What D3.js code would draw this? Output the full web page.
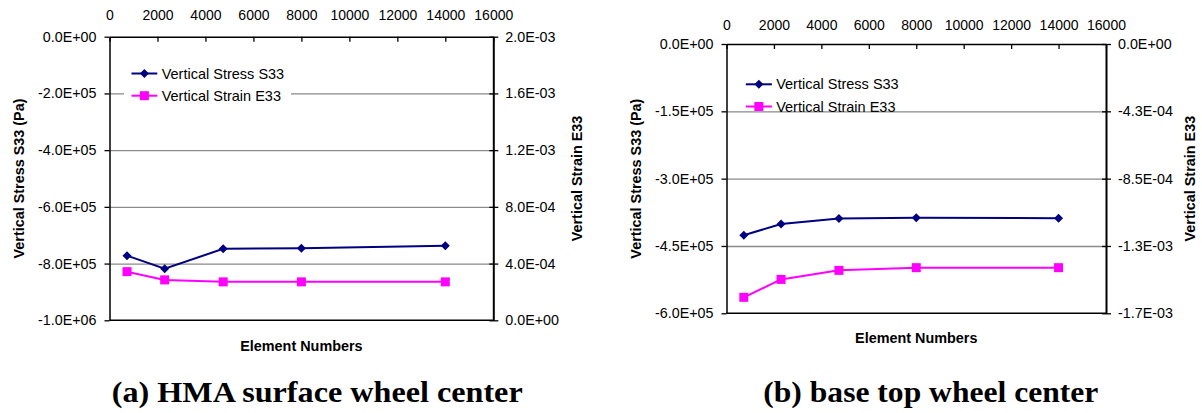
<!DOCTYPE html>
<html>
<head>
<meta charset="utf-8">
<script src="https://cdn.jsdelivr.net/npm/d3@7"></script>
<style>
  html, body { margin: 0; padding: 0; background: #fff; }
  svg { display: block; }
  text { font-family: "Liberation Sans", Arial, Helvetica, sans-serif; fill: #000; }
  .caption { font-family: "Liberation Serif", "Times New Roman", serif; font-weight: bold; }
</style>
</head>
<body>
<svg id="fig" width="1202" height="413"></svg>
<script>
// Mesh sizes (number of elements) used in the convergence study
const elementNumbers = [730, 2300, 4740, 8000, 14000];
const elementTicks = [0, 2000, 4000, 6000, 8000, 10000, 12000, 14000, 16000];

// (a) HMA surface, wheel center
const stressHMA = [-7.72e5, -8.18e5, -7.48e5, -7.46e5, -7.37e5];
const strainHMA = [3.43e-4, 2.85e-4, 2.71e-4, 2.71e-4, 2.71e-4];
const stressTicksHMA = [0, -2e5, -4e5, -6e5, -8e5, -1e6];
const stressLabelsHMA = ["0.0E+00", "-2.0E+05", "-4.0E+05", "-6.0E+05", "-8.0E+05", "-1.0E+06"];
const strainTicksHMA = [2e-3, 1.6e-3, 1.2e-3, 8e-4, 4e-4, 0];
const strainLabelsHMA = ["2.0E-03", "1.6E-03", "1.2E-03", "8.0E-04", "4.0E-04", "0.0E+00"];

// (b) base top, wheel center
const stressBase = [-4.26e5, -4.01e5, -3.89e5, -3.87e5, -3.88e5];
const strainBase = [-1.599e-3, -1.486e-3, -1.429e-3, -1.412e-3, -1.412e-3];
const stressTicksBase = [0, -1.5e5, -3e5, -4.5e5, -6e5];
const stressLabelsBase = ["0.0E+00", "-1.5E+05", "-3.0E+05", "-4.5E+05", "-6.0E+05"];
const strainTicksBase = [0, -4.25e-4, -8.5e-4, -1.275e-3, -1.7e-3];
const strainLabelsBase = ["0.0E+00", "-4.3E-04", "-8.5E-04", "-1.3E-03", "-1.7E-03"];

const seriesNames = ["Vertical Stress S33", "Vertical Strain E33"];
const captions = ["(a) HMA surface wheel center", "(b) base top wheel center"];

const NAVY = "#000080", MAGENTA = "#FF00FF", GRID = "#8a8a8a";
const svg = d3.select("#fig");

const diamond = d3.symbol(d3.symbolSquare, 40.5)();
const square = d3.symbol(d3.symbolSquare, 81)();

function panel(cfg) {
  const g = svg.append("g");
  const x = d3.scaleLinear().domain([0, 16000]).range([cfg.left, cfg.right]);
  const yS = d3.scaleLinear().domain(cfg.stressDomain).range([cfg.bottom, cfg.top]);
  const yE = d3.scaleLinear().domain(cfg.strainDomain).range([cfg.bottom, cfg.top]);
  const w = cfg.right - cfg.left;

  // horizontal gridlines
  const grid = g.append("g").attr("transform", `translate(${cfg.left},0)`)
    .call(d3.axisLeft(yS).tickValues(cfg.stressTicks.slice(1, -1)).tickSize(-w).tickFormat(""));
  grid.select(".domain").remove();
  grid.selectAll("line").attr("stroke", GRID).attr("stroke-width", 1.4);

  // legend background interrupts the gridline behind it
  const lg = cfg.legend;
  g.append("rect").attr("x", lg.boxX0).attr("y", lg.y - 14)
    .attr("width", lg.boxX1 - lg.boxX0).attr("height", 40).attr("fill", "#fff");

  // top axis (element numbers)
  const ax = g.append("g").attr("transform", `translate(0,${cfg.top})`)
    .call(d3.axisTop(x).tickValues(elementTicks).tickFormat(d3.format("d"))
      .tickSize(-5).tickSizeOuter(0).tickPadding(cfg.topPad));
  ax.select(".domain").attr("stroke", "#000").attr("stroke-width", 1.5);
  ax.selectAll("line").attr("stroke", "#000").attr("stroke-width", 1.3);
  ax.selectAll("text").attr("font-size", 14).attr("fill", "#000");

  // bottom frame line
  g.append("line").attr("x1", cfg.left).attr("x2", cfg.right)
    .attr("y1", cfg.bottom).attr("y2", cfg.bottom)
    .attr("stroke", "#000").attr("stroke-width", 1.5);

  // left axis (stress)
  const ay = g.append("g").attr("transform", `translate(${cfg.left},0)`)
    .call(d3.axisLeft(yS).tickValues(cfg.stressTicks)
      .tickFormat((d, i) => cfg.stressLabels[i]).tickSize(5).tickSizeOuter(0).tickPadding(8));
  ay.select(".domain").attr("stroke", "#000").attr("stroke-width", 1.5);
  ay.selectAll("line").attr("stroke", "#000").attr("stroke-width", 1.3);
  ay.selectAll("text").attr("font-size", 14.3).attr("fill", "#000");

  // right axis (strain)
  const ar = g.append("g").attr("transform", `translate(${cfg.right},0)`)
    .call(d3.axisRight(yE).tickValues(cfg.strainTicks)
      .tickFormat((d, i) => cfg.strainLabels[i]).tickSize(5).tickSizeOuter(0).tickPadding(7));
  ar.select(".domain").attr("stroke", "#000").attr("stroke-width", 2);
  ar.selectAll(".tick line").attr("x1", -4).attr("stroke", "#000").attr("stroke-width", 1.3);
  ar.selectAll("text").attr("font-size", 14.3).attr("fill", "#000");

  // axis titles
  const midY = (cfg.top + cfg.bottom) / 2;
  g.append("text").attr("transform", `translate(${cfg.leftTitleX},${midY}) rotate(-90)`)
    .attr("text-anchor", "middle").attr("font-weight", "bold").attr("font-size", 14.4)
    .text("Vertical Stress S33 (Pa)");
  g.append("text").attr("transform", `translate(${cfg.rightTitleX},${midY}) rotate(-90)`)
    .attr("text-anchor", "middle").attr("font-weight", "bold").attr("font-size", 14.4)
    .text("Vertical Strain E33");
  g.append("text").attr("x", (cfg.left + cfg.right) / 2).attr("y", cfg.xTitleY)
    .attr("text-anchor", "middle").attr("font-weight", "bold").attr("font-size", 14.4)
    .text("Element Numbers");

  // series
  const lineS = d3.line().x((d, i) => x(elementNumbers[i])).y(d => yS(d));
  const lineE = d3.line().x((d, i) => x(elementNumbers[i])).y(d => yE(d));
  g.append("path").attr("d", lineS(cfg.stress)).attr("fill", "none")
    .attr("stroke", NAVY).attr("stroke-width", 2);
  g.append("path").attr("d", lineE(cfg.strain)).attr("fill", "none")
    .attr("stroke", MAGENTA).attr("stroke-width", 2);
  g.selectAll(".mS").data(cfg.stress).join("path").attr("class", "mS")
    .attr("d", diamond).attr("fill", NAVY)
    .attr("transform", (d, i) => `translate(${x(elementNumbers[i])},${yS(d)}) rotate(45)`);
  g.selectAll(".mE").data(cfg.strain).join("path").attr("class", "mE")
    .attr("d", square).attr("fill", MAGENTA)
    .attr("transform", (d, i) => `translate(${x(elementNumbers[i])},${yE(d)})`);

  // legend
  const rows = [
    { name: seriesNames[0], color: NAVY, sym: diamond, rot: 45 },
    { name: seriesNames[1], color: MAGENTA, sym: square, rot: 0 }
  ];
  rows.forEach((r, i) => {
    const yy = lg.y + i * 22.2;
    g.append("line").attr("x1", lg.x0).attr("x2", lg.x1).attr("y1", yy).attr("y2", yy)
      .attr("stroke", r.color).attr("stroke-width", 2);
    g.append("path").attr("d", r.sym).attr("fill", r.color)
      .attr("transform", `translate(${(lg.x0 + lg.x1) / 2},${yy}) rotate(${r.rot})`);
    g.append("text").attr("x", lg.textX).attr("y", yy).attr("dy", "0.35em")
      .attr("font-size", 14.5).text(r.name);
  });

  // caption
  svg.append("text").attr("class", "caption").attr("x", cfg.capX).attr("y", 401.7)
    .attr("font-size", 29).attr("textLength", cfg.capLen).attr("lengthAdjust", "spacingAndGlyphs")
    .text(cfg.caption);
}

panel({
  left: 109.5, right: 493.3, top: 36.7, bottom: 320.3, topPad: 16.5,
  stressDomain: [-1e6, 0], strainDomain: [0, 2e-3],
  stressTicks: stressTicksHMA, stressLabels: stressLabelsHMA,
  strainTicks: strainTicksHMA, strainLabels: strainLabelsHMA,
  stress: stressHMA, strain: strainHMA,
  leftTitleX: 24, rightTitleX: 581.7, xTitleY: 351,
  legend: { x0: 131.5, x1: 157.3, textX: 161.7, y: 73.5, boxX0: 124, boxX1: 291 },
  caption: captions[0], capX: 111.7, capLen: 411
});

panel({
  left: 726.5, right: 1106, top: 44, bottom: 313.3, topPad: 14,
  stressDomain: [-6e5, 0], strainDomain: [-1.7e-3, 0],
  stressTicks: stressTicksBase, stressLabels: stressLabelsBase,
  strainTicks: strainTicksBase, strainLabels: strainLabelsBase,
  stress: stressBase, strain: strainBase,
  leftTitleX: 640.7, rightTitleX: 1195, xTitleY: 343.3,
  legend: { x0: 745.8, x1: 771.9, textX: 776.2, y: 84.3, boxX0: 738.5, boxX1: 906.5 },
  caption: captions[1], capX: 763.3, capLen: 335
});
</script>
</body>
</html>
